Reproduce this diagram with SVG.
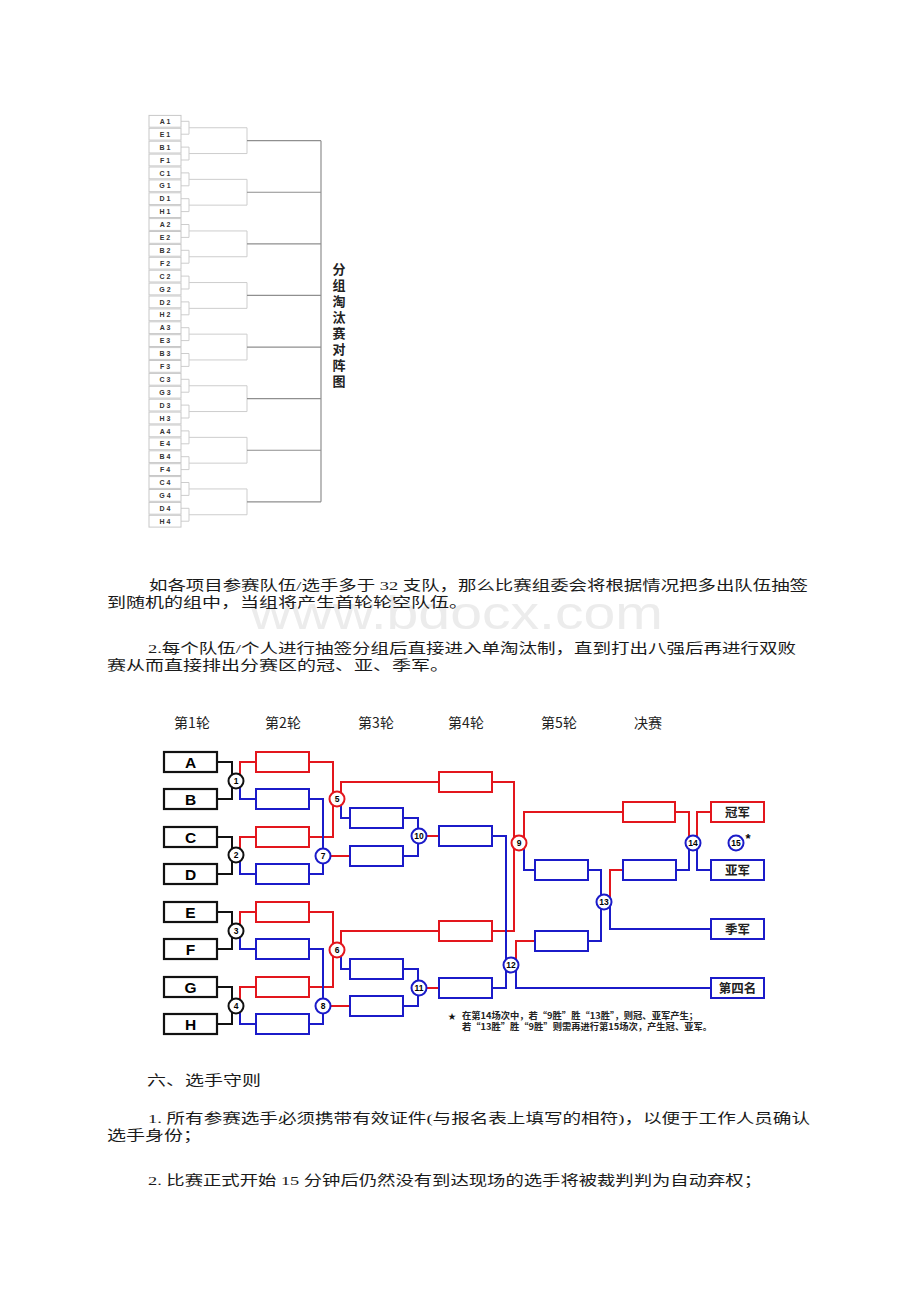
<svg xmlns="http://www.w3.org/2000/svg" width="920" height="1302" viewBox="0 0 920 1302">
<style>
.body{font-family:"Liberation Serif","Noto Sans CJK SC",serif;font-size:13.5px;fill:#1a1a1a}
.wm{font-family:"Liberation Sans","Noto Sans",sans-serif;font-size:46px;fill:#ececec}
.tb{fill:#fff;stroke:#c8c8c8;stroke-width:1}
.tl{fill:none;stroke:#cdcdcd;stroke-width:1}
.td{fill:none;stroke:#8f8f8f;stroke-width:1.2}
.tlab{font-family:"Liberation Sans",sans-serif;font-size:7px;font-weight:bold;fill:#333;text-anchor:middle}
.ttl{font-family:"Noto Sans CJK SC",sans-serif;font-size:13px;font-weight:bold;fill:#222;text-anchor:middle}
.hdr{font-family:"Noto Sans CJK SC","Liberation Sans",sans-serif;font-size:14px;fill:#222;text-anchor:middle}
.kb{fill:#fff;stroke:#111;stroke-width:2.2}
.rb{fill:#fff;stroke:#e3161d;stroke-width:2}
.bb{fill:#fff;stroke:#1b1bc9;stroke-width:2}
.kl{fill:none;stroke:#111;stroke-width:2}
.rl{fill:none;stroke:#e3161d;stroke-width:2}
.bl{fill:none;stroke:#1b1bc9;stroke-width:2}
.ck{fill:#fff;stroke:#111;stroke-width:2}
.cr{fill:#fff;stroke:#e3161d;stroke-width:2}
.cb{fill:#fff;stroke:#1b1bc9;stroke-width:2}
.let{font-family:"Liberation Sans",sans-serif;font-size:15.5px;font-weight:bold;fill:#000;text-anchor:middle}
.num{font-family:"Liberation Sans",sans-serif;font-size:8.5px;font-weight:bold;fill:#000;text-anchor:middle}
.res{font-family:"Noto Sans CJK SC",sans-serif;font-size:12.5px;font-weight:bold;fill:#222;text-anchor:middle}
.note{font-family:"Noto Sans CJK SC","Liberation Sans",sans-serif;font-size:9px;font-weight:bold;fill:#222}
</style>

<!-- watermark -->
<text class="wm" x="250" y="629" textLength="413" lengthAdjust="spacingAndGlyphs">www.bdocx.com</text>

<!-- top group bracket -->
<g id="group-bracket">
<g id="top-lines">
<path class="tl" d="M181 121.3H189V134.2H181M189 127.75H247M181 147.1H189V160H181M189 153.55H247M247 127.75V153.55"/>
<path class="tl" d="M181 172.9H189V185.8H181M189 179.35H247M181 198.7H189V211.6H181M189 205.15H247M247 179.35V205.15"/>
<path class="tl" d="M181 224.5H189V237.4H181M189 230.95H247M181 250.3H189V263.2H181M189 256.75H247M247 230.95V256.75"/>
<path class="tl" d="M181 276.1H189V289H181M189 282.55H247M181 301.9H189V314.8H181M189 308.35H247M247 282.55V308.35"/>
<path class="tl" d="M181 327.7H189V340.6H181M189 334.15H247M181 353.5H189V366.4H181M189 359.95H247M247 334.15V359.95"/>
<path class="tl" d="M181 379.3H189V392.2H181M189 385.75H247M181 405.1H189V418H181M189 411.55H247M247 385.75V411.55"/>
<path class="tl" d="M181 430.9H189V443.8H181M189 437.35H247M181 456.7H189V469.6H181M189 463.15H247M247 437.35V463.15"/>
<path class="tl" d="M181 482.5H189V495.4H181M189 488.95H247M181 508.3H189V521.2H181M189 514.75H247M247 488.95V514.75"/>
<path class="td" d="M247 140.65H321M247 192.25H321M247 243.85H321M247 295.45H321M247 347.05H321M247 398.65H321M247 450.25H321M247 501.85H321M321 140.65V501.85"/>
</g>
<g id="top-boxes">
<rect class="tb" x="149" y="115.4" width="32" height="11.8"/><text class="tlab" x="165" y="123.9">A 1</text>
<rect class="tb" x="149" y="128.3" width="32" height="11.8"/><text class="tlab" x="165" y="136.8">E 1</text>
<rect class="tb" x="149" y="141.2" width="32" height="11.8"/><text class="tlab" x="165" y="149.7">B 1</text>
<rect class="tb" x="149" y="154.1" width="32" height="11.8"/><text class="tlab" x="165" y="162.6">F 1</text>
<rect class="tb" x="149" y="167" width="32" height="11.8"/><text class="tlab" x="165" y="175.5">C 1</text>
<rect class="tb" x="149" y="179.9" width="32" height="11.8"/><text class="tlab" x="165" y="188.4">G 1</text>
<rect class="tb" x="149" y="192.8" width="32" height="11.8"/><text class="tlab" x="165" y="201.3">D 1</text>
<rect class="tb" x="149" y="205.7" width="32" height="11.8"/><text class="tlab" x="165" y="214.2">H 1</text>
<rect class="tb" x="149" y="218.6" width="32" height="11.8"/><text class="tlab" x="165" y="227.1">A 2</text>
<rect class="tb" x="149" y="231.5" width="32" height="11.8"/><text class="tlab" x="165" y="240">E 2</text>
<rect class="tb" x="149" y="244.4" width="32" height="11.8"/><text class="tlab" x="165" y="252.9">B 2</text>
<rect class="tb" x="149" y="257.3" width="32" height="11.8"/><text class="tlab" x="165" y="265.8">F 2</text>
<rect class="tb" x="149" y="270.2" width="32" height="11.8"/><text class="tlab" x="165" y="278.7">C 2</text>
<rect class="tb" x="149" y="283.1" width="32" height="11.8"/><text class="tlab" x="165" y="291.6">G 2</text>
<rect class="tb" x="149" y="296" width="32" height="11.8"/><text class="tlab" x="165" y="304.5">D 2</text>
<rect class="tb" x="149" y="308.9" width="32" height="11.8"/><text class="tlab" x="165" y="317.4">H 2</text>
<rect class="tb" x="149" y="321.8" width="32" height="11.8"/><text class="tlab" x="165" y="330.3">A 3</text>
<rect class="tb" x="149" y="334.7" width="32" height="11.8"/><text class="tlab" x="165" y="343.2">E 3</text>
<rect class="tb" x="149" y="347.6" width="32" height="11.8"/><text class="tlab" x="165" y="356.1">B 3</text>
<rect class="tb" x="149" y="360.5" width="32" height="11.8"/><text class="tlab" x="165" y="369">F 3</text>
<rect class="tb" x="149" y="373.4" width="32" height="11.8"/><text class="tlab" x="165" y="381.9">C 3</text>
<rect class="tb" x="149" y="386.3" width="32" height="11.8"/><text class="tlab" x="165" y="394.8">G 3</text>
<rect class="tb" x="149" y="399.2" width="32" height="11.8"/><text class="tlab" x="165" y="407.7">D 3</text>
<rect class="tb" x="149" y="412.1" width="32" height="11.8"/><text class="tlab" x="165" y="420.6">H 3</text>
<rect class="tb" x="149" y="425" width="32" height="11.8"/><text class="tlab" x="165" y="433.5">A 4</text>
<rect class="tb" x="149" y="437.9" width="32" height="11.8"/><text class="tlab" x="165" y="446.4">E 4</text>
<rect class="tb" x="149" y="450.8" width="32" height="11.8"/><text class="tlab" x="165" y="459.3">B 4</text>
<rect class="tb" x="149" y="463.7" width="32" height="11.8"/><text class="tlab" x="165" y="472.2">F 4</text>
<rect class="tb" x="149" y="476.6" width="32" height="11.8"/><text class="tlab" x="165" y="485.1">C 4</text>
<rect class="tb" x="149" y="489.5" width="32" height="11.8"/><text class="tlab" x="165" y="498">G 4</text>
<rect class="tb" x="149" y="502.4" width="32" height="11.8"/><text class="tlab" x="165" y="510.9">D 4</text>
<rect class="tb" x="149" y="515.3" width="32" height="11.8"/><text class="tlab" x="165" y="523.8">H 4</text>
</g>
<g id="top-title">
<text class="ttl" x="339" y="273.8">分</text>
<text class="ttl" x="339" y="290">组</text>
<text class="ttl" x="339" y="306">淘</text>
<text class="ttl" x="339" y="322">汰</text>
<text class="ttl" x="339" y="338">赛</text>
<text class="ttl" x="339" y="354">对</text>
<text class="ttl" x="339" y="370">阵</text>
<text class="ttl" x="339" y="386">图</text>
</g>
</g>

<!-- body paragraphs -->
<text class="body" x="149" y="590" textLength="659" lengthAdjust="spacingAndGlyphs">如各项目参赛队伍/选手多于 32 支队，那么比赛组委会将根据情况把多出队伍抽签</text>
<text class="body" x="107" y="607" textLength="361" lengthAdjust="spacingAndGlyphs">到随机的组中，当组将产生首轮轮空队伍。</text>
<text class="body" x="148" y="653" textLength="648" lengthAdjust="spacingAndGlyphs">2.每个队伍/个人进行抽签分组后直接进入单淘汰制，直到打出八强后再进行双败</text>
<text class="body" x="107" y="670" textLength="342" lengthAdjust="spacingAndGlyphs">赛从而直接排出分赛区的冠、亚、季军。</text>

<!-- double elimination bracket -->
<g id="headers">
<text class="hdr" x="192" y="728">第1轮</text>
<text class="hdr" x="283" y="728">第2轮</text>
<text class="hdr" x="376" y="728">第3轮</text>
<text class="hdr" x="466" y="728">第4轮</text>
<text class="hdr" x="559" y="728">第5轮</text>
<text class="hdr" x="648" y="728">决赛</text>
</g>

<g id="connectors">
<path class="kl" d="M217 762H232V799H217M217 837H232V874H217M217 912H232V949H217M217 987H232V1024H217"/>
<path class="rl" d="M256 762H240V781M256 837H240V855M256 912H240V931M256 987H240V1006"/>
<path class="bl" d="M240 781V799H256M240 855V874H256M240 931V949H256M240 1006V1024H256"/>
<path class="rl" d="M309 762H333V837H309M309 912H333V987H309"/>
<path class="bl" d="M309 799H323V874H309M309 949H323V1024H309"/>
<path class="rl" d="M341 799V782H439M341 950V931H439M323 856H350M323 1006H350"/>
<path class="bl" d="M341 799V818H350M341 950V969H350"/>
<path class="bl" d="M403 818H418V856H403M403 969H418V1006H403"/>
<path class="rl" d="M418 836H439M418 988H439"/>
<path class="rl" d="M492 782H514V931H492"/>
<path class="bl" d="M492 836H506V988H492"/>
<path class="rl" d="M524 843V812H623M516 965V941H535"/>
<path class="bl" d="M524 843V870H535M516 965V988H711"/>
<path class="bl" d="M588 870H601V941H588"/>
<path class="rl" d="M610 902V870H623"/>
<path class="bl" d="M610 902V929H711"/>
<path class="rl" d="M675 812H689V843M697 843V812H711"/>
<path class="bl" d="M676 870H689V843M697 843V870H711"/>
</g>

<g id="round1">
<g id="team-A"><rect class="kb" x="164" y="752" width="53" height="20"/><text class="let" x="190.5" y="767.5">A</text></g>
<g id="team-B"><rect class="kb" x="164" y="789" width="53" height="20"/><text class="let" x="190.5" y="804.5">B</text></g>
<g id="team-C"><rect class="kb" x="164" y="827" width="53" height="20"/><text class="let" x="190.5" y="842.5">C</text></g>
<g id="team-D"><rect class="kb" x="164" y="864" width="53" height="20"/><text class="let" x="190.5" y="879.5">D</text></g>
<g id="team-E"><rect class="kb" x="164" y="902" width="53" height="20"/><text class="let" x="190.5" y="917.5">E</text></g>
<g id="team-F"><rect class="kb" x="164" y="939" width="53" height="20"/><text class="let" x="190.5" y="954.5">F</text></g>
<g id="team-G"><rect class="kb" x="164" y="977" width="53" height="20"/><text class="let" x="190.5" y="992.5">G</text></g>
<g id="team-H"><rect class="kb" x="164" y="1014" width="53" height="20"/><text class="let" x="190.5" y="1029.5">H</text></g>
</g>

<g id="round2">
<rect class="rb" x="256" y="752" width="53" height="20"/>
<rect class="bb" x="256" y="789" width="53" height="20"/>
<rect class="rb" x="256" y="827" width="53" height="20"/>
<rect class="bb" x="256" y="864" width="53" height="20"/>
<rect class="rb" x="256" y="902" width="53" height="20"/>
<rect class="bb" x="256" y="939" width="53" height="20"/>
<rect class="rb" x="256" y="977" width="53" height="20"/>
<rect class="bb" x="256" y="1014" width="53" height="20"/>
</g>

<g id="round3">
<rect class="bb" x="350" y="808" width="53" height="20"/>
<rect class="bb" x="350" y="846" width="53" height="20"/>
<rect class="bb" x="350" y="959" width="53" height="20"/>
<rect class="bb" x="350" y="996" width="53" height="20"/>
</g>

<g id="round4">
<rect class="rb" x="439" y="772" width="53" height="20"/>
<rect class="bb" x="439" y="826" width="53" height="20"/>
<rect class="rb" x="439" y="921" width="53" height="20"/>
<rect class="bb" x="439" y="978" width="53" height="20"/>
</g>

<g id="round5">
<rect class="bb" x="535" y="860" width="53" height="20"/>
<rect class="bb" x="535" y="931" width="53" height="20"/>
</g>

<g id="final">
<rect class="rb" x="623" y="802" width="52" height="20"/>
<rect class="bb" x="623" y="860" width="53" height="20"/>
</g>

<g id="results">
<g id="champion"><rect class="rb" x="711" y="802" width="53" height="20"/><text class="res" x="737.5" y="816.5">冠军</text></g>
<g id="runner-up"><rect class="bb" x="711" y="860" width="53" height="20"/><text class="res" x="737.5" y="874.5">亚军</text></g>
<g id="third"><rect class="bb" x="711" y="919" width="53" height="20"/><text class="res" x="737.5" y="933.5">季军</text></g>
<g id="fourth"><rect class="bb" x="711" y="978" width="53" height="20"/><text class="res" x="737.5" y="992.5">第四名</text></g>
</g>

<g id="matches">
<g id="m1"><circle class="ck" cx="236" cy="781" r="7.5"/><text class="num" x="236" y="784">1</text></g>
<g id="m2"><circle class="ck" cx="236" cy="855" r="7.5"/><text class="num" x="236" y="858">2</text></g>
<g id="m3"><circle class="ck" cx="236" cy="931" r="7.5"/><text class="num" x="236" y="934">3</text></g>
<g id="m4"><circle class="ck" cx="236" cy="1006" r="7.5"/><text class="num" x="236" y="1009">4</text></g>
<g id="m5"><circle class="cr" cx="337" cy="799" r="7.5"/><text class="num" x="337" y="802">5</text></g>
<g id="m6"><circle class="cr" cx="337" cy="950" r="7.5"/><text class="num" x="337" y="953">6</text></g>
<g id="m7"><circle class="cb" cx="323" cy="856" r="7.5"/><text class="num" x="323" y="859">7</text></g>
<g id="m8"><circle class="cb" cx="323" cy="1006" r="7.5"/><text class="num" x="323" y="1009">8</text></g>
<g id="m9"><circle class="cr" cx="519" cy="843" r="7.5"/><text class="num" x="519" y="846">9</text></g>
<g id="m10"><circle class="cb" cx="419" cy="836" r="7.5"/><text class="num" x="419" y="839">10</text></g>
<g id="m11"><circle class="cb" cx="419" cy="988" r="7.5"/><text class="num" x="419" y="991">11</text></g>
<g id="m12"><circle class="cb" cx="511" cy="965" r="7.5"/><text class="num" x="511" y="968">12</text></g>
<g id="m13"><circle class="cb" cx="604" cy="902" r="7.5"/><text class="num" x="604" y="905">13</text></g>
<g id="m14"><circle class="cb" cx="693" cy="843" r="7.5"/><text class="num" x="693" y="846">14</text></g>
<g id="m15"><circle class="cb" cx="736" cy="843" r="7.5"/><text class="num" x="736" y="846">15</text><text x="748" y="843" font-family="Liberation Sans,sans-serif" font-size="13" font-weight="bold" fill="#000" text-anchor="middle">*</text></g>
</g>

<g id="note">
<text x="452" y="1019" font-family="Noto Sans CJK SC,sans-serif" font-size="8" fill="#111" text-anchor="middle">★</text>
<text class="note" x="462" y="1018.5" textLength="236" lengthAdjust="spacingAndGlyphs">在第14场次中，若“9胜”胜“13胜”，则冠、亚军产生；</text>
<text class="note" x="462" y="1030" textLength="250" lengthAdjust="spacingAndGlyphs">若“13胜”胜“9胜”则需再进行第15场次，产生冠、亚军。</text>
</g>

<!-- rules -->
<text class="body" x="147" y="1085" textLength="114" lengthAdjust="spacingAndGlyphs">六、选手守则</text>
<text class="body" x="148" y="1123" textLength="662" lengthAdjust="spacingAndGlyphs">1. 所有参赛选手必须携带有效证件(与报名表上填写的相符)，以便于工作人员确认</text>
<text class="body" x="107" y="1140" textLength="95" lengthAdjust="spacingAndGlyphs">选手身份；</text>
<text class="body" x="148" y="1185" textLength="614" lengthAdjust="spacingAndGlyphs">2. 比赛正式开始 15 分钟后仍然没有到达现场的选手将被裁判判为自动弃权；</text>
</svg>
